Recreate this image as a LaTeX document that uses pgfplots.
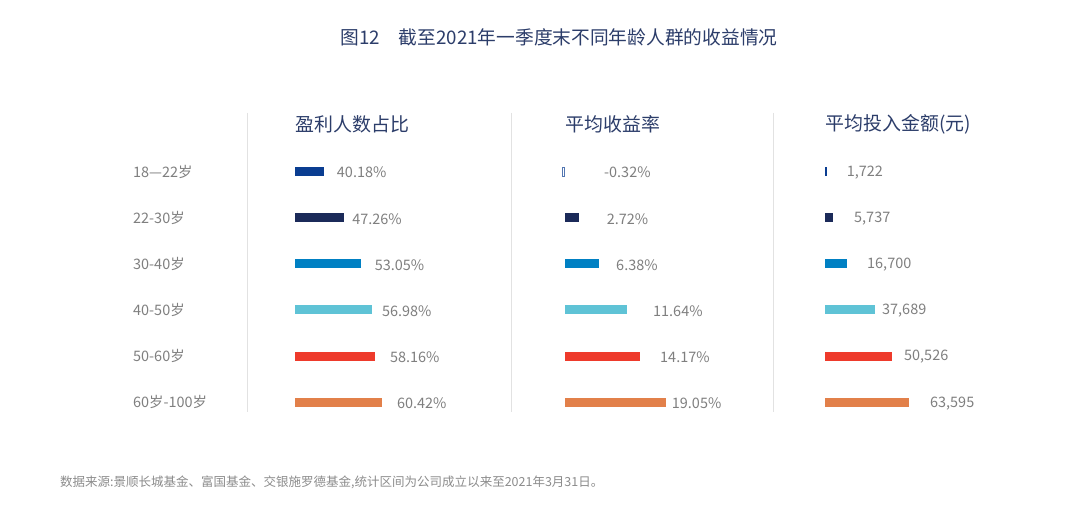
\documentclass[border=0pt]{standalone}
\usepackage{fontspec}
\setmainfont{Noto Sans CJK SC}
\usepackage{pgfplots}
\pgfplotsset{compat=1.18}

\definecolor{cA}{HTML}{0A3D91}
\definecolor{cB}{HTML}{1B2A59}
\definecolor{cC}{HTML}{0080C3}
\definecolor{cD}{HTML}{5FC3D6}
\definecolor{cE}{HTML}{EE3A2B}
\definecolor{cF}{HTML}{E2804A}
\definecolor{navy}{HTML}{2C3D6A}
\definecolor{txtgray}{HTML}{7F7F7F}
\definecolor{footgray}{HTML}{8C8C8C}
\definecolor{sepgray}{HTML}{E2E2E2}

\pgfplotsset{
  panel/.style={
    scale only axis, hide axis, xbar, bar width=9bp,
    width=200bp, height=276.6bp, anchor=north west,
    ymin=0.5, ymax=6.5, y dir=reverse,
    point meta=explicit symbolic,
    nodes near coords,
    every node near coord/.append style={anchor=west, inner sep=0pt,
      yshift=-1bp, text=txtgray, font=\fontsize{14.5}{17}\selectfont},
  },
  % one bar per row: colour, label offset in bp
  bb/.style 2 args={fill=#1, draw=none, bar shift=0pt,
    every node near coord/.append style={xshift=#2bp}},
}

\begin{document}
\begin{tikzpicture}
\fill[white] (0,0) rectangle (1080bp,516bp);

\node[text=navy, font=\fontsize{18.8}{23}\selectfont] at (559bp,479bp)
  {图12\hspace{1em}截至2021年一季度末不同年龄人群的收益情况};

\begin{scope}[every node/.style={anchor=west, inner sep=0pt, text=navy,
    font=\fontsize{19}{23}\selectfont}]
\node at (295.5bp,392bp) {盈利人数占比};
\node at (565.5bp,392bp) {平均收益率};
\node at (825.5bp,392bp) {平均投入金额(元)};
\end{scope}

\begin{scope}[every node/.style={anchor=west, inner sep=0pt, text=txtgray,
    font=\fontsize{14.5}{17}\selectfont}]
\node at (133bp,344.3bp) {18—22岁};
\node at (133bp,298.2bp) {22-30岁};
\node at (133bp,252bp) {30-40岁};
\node at (133bp,206bp) {40-50岁};
\node at (133bp,160bp) {50-60岁};
\node at (133bp,114bp) {60岁-100岁};
\end{scope}

\draw[sepgray, line width=1bp] (247bp,403bp) -- (247bp,104bp);
\draw[sepgray, line width=1bp] (511bp,403bp) -- (511bp,104bp);
\draw[sepgray, line width=1bp] (773bp,403bp) -- (773bp,104bp);

% 盈利人数占比
\begin{axis}[panel, at={(295bp,367.35bp)}, xmin=30.15, xmax=99.89]
\addplot[bb={cA}{13}] coordinates {(40.18,1) [40.18\%]};
\addplot[bb={cB}{8}] coordinates {(47.26,2) [47.26\%]};
\addplot[bb={cC}{14}] coordinates {(53.05,3) [53.05\%]};
\addplot[bb={cD}{10}] coordinates {(56.98,4) [56.98\%]};
\addplot[bb={cE}{14.5}] coordinates {(58.16,5) [58.16\%]};
\addplot[bb={cF}{15}] coordinates {(60.42,6) [60.42\%]};
\end{axis}

% 平均收益率
\begin{axis}[panel, at={(559.15bp,367.35bp)}, xmin=-1, xmax=36.38]
\addplot[fill=white, draw=cA!70, line width=0.8bp, bar shift=0pt,
  every node near coord/.append style={xshift=41bp}]
  coordinates {(-0.32,1) [-0.32\%]};
\addplot[bb={cB}{27.6}] coordinates {(2.72,2) [2.72\%]};
\addplot[bb={cC}{17.4}] coordinates {(6.38,3) [6.38\%]};
\addplot[bb={cD}{26.2}] coordinates {(11.64,4) [11.64\%]};
\addplot[bb={cE}{19.7}] coordinates {(14.17,5) [14.17\%]};
\addplot[bb={cF}{5.3}] coordinates {(19.05,6) [19.05\%]};
\end{axis}

% 平均投入金额(元)
\begin{axis}[panel, at={(825bp,367.35bp)}, xmin=0, xmax=151114]
\addplot[bb={cA}{19.4}] coordinates {(1722,1) [1,722]};
\addplot[bb={cB}{21.4}] coordinates {(5737,2) [5,737]};
\addplot[bb={cC}{19.9}] coordinates {(16700,3) [16,700]};
\addplot[bb={cD}{7.1}] coordinates {(37689,4) [37,689]};
\addplot[bb={cE}{12.1}] coordinates {(50526,5) [50,526]};
\addplot[bb={cF}{20.8}] coordinates {(63595,6) [63,595]};
\end{axis}

\node[anchor=west, inner sep=0pt, text=footgray,
  font=\fontsize{12.55}{14}\selectfont] at (60bp,34bp)
  {数据来源:景顺长城基金、富国基金、交银施罗德基金,统计区间为公司成立以来至2021年3月31日。};
\end{tikzpicture}
\end{document}
